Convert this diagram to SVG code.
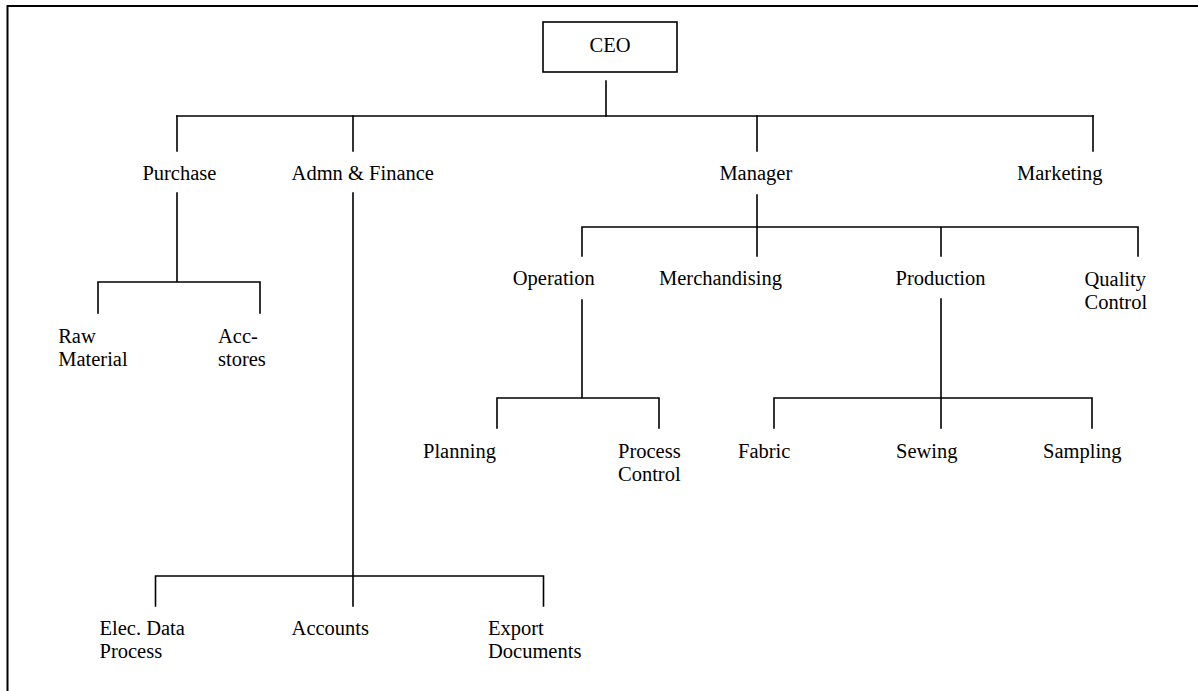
<svg xmlns="http://www.w3.org/2000/svg" width="1198" height="691" viewBox="0 0 1198 691">
<style>
  .t { font-family: "Liberation Serif", "Times New Roman", serif; font-size: 20.5px; fill: #000; }
  .c { text-anchor: middle; }
  .ln { stroke: #000; stroke-width: 1.6; fill: none; stroke-linecap: square; }
  .box { stroke: #000; stroke-width: 1.6; fill: #fff; }
  .frame { stroke: #000; stroke-width: 2; fill: none; }
</style>
<rect width="1198" height="691" fill="#fff"/>
<path class="frame" d="M7.5,700 V6 H1210"/>

<g id="connectors">
  <path class="ln" d="M606,81 V116"/>
  <path class="ln" d="M177,116 H1093"/>
  <path class="ln" d="M177,116 V151 M353,116 V151 M757,116 V151 M1093,116 V151"/>
  <path class="ln" d="M177,193 V282 M98,282 H260 M98,282 V313 M260,282 V313"/>
  <path class="ln" d="M353,193 V576 M155.5,576 H543.5 M155.5,576 V606 M353,576 V606 M543.5,576 V606"/>
  <path class="ln" d="M757,195 V227 M582,227 H1138 M582,227 V256 M757,227 V256 M941,227 V256 M1138,227 V256"/>
  <path class="ln" d="M582,300 V398 M497,398 H659 M497,398 V428 M659,398 V428"/>
  <path class="ln" d="M941,299 V398 M774,398 H1092 M774,398 V428 M941,398 V428 M1092,398 V428"/>
</g>

<g id="ceo">
  <rect class="box" x="543" y="22" width="134" height="50"/>
  <text class="t c" x="610" y="52">CEO</text>
</g>
<g id="purchase"><text class="t" x="142.4" y="180">Purchase</text></g>
<g id="admn-finance"><text class="t" x="291.6" y="180">Admn &amp; Finance</text></g>
<g id="manager"><text class="t" x="719.4" y="180">Manager</text></g>
<g id="marketing"><text class="t" x="1017" y="180">Marketing</text></g>

<g id="raw-material"><text class="t" x="58.2" y="343">Raw</text><text class="t" x="58.2" y="366">Material</text></g>
<g id="acc-stores"><text class="t" x="218" y="343">Acc-</text><text class="t" x="218" y="366">stores</text></g>

<g id="operation"><text class="t" x="512.8" y="285">Operation</text></g>
<g id="merchandising"><text class="t" x="659" y="285">Merchandising</text></g>
<g id="production"><text class="t" x="895.6" y="285">Production</text></g>
<g id="quality-control"><text class="t" x="1084.5" y="286">Quality</text><text class="t" x="1084.5" y="309">Control</text></g>

<g id="planning"><text class="t" x="423" y="458">Planning</text></g>
<g id="process-control"><text class="t" x="618" y="458">Process</text><text class="t" x="618" y="481">Control</text></g>
<g id="fabric"><text class="t" x="738" y="458">Fabric</text></g>
<g id="sewing"><text class="t" x="896" y="458">Sewing</text></g>
<g id="sampling"><text class="t" x="1043" y="458">Sampling</text></g>

<g id="elec-data-process"><text class="t" x="99.5" y="635">Elec. Data</text><text class="t" x="99.5" y="658">Process</text></g>
<g id="accounts"><text class="t" x="291.6" y="635">Accounts</text></g>
<g id="export-documents"><text class="t" x="488" y="635">Export</text><text class="t" x="488" y="658">Documents</text></g>
</svg>
